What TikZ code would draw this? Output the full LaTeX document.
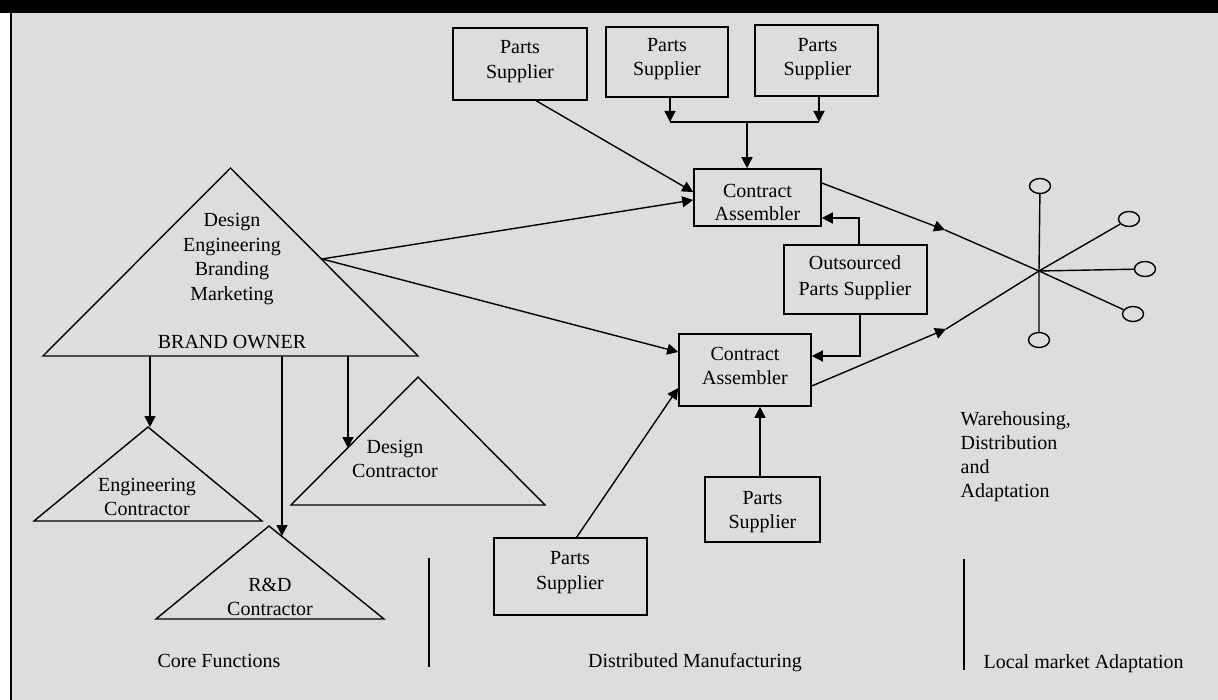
\documentclass[tikz,border=0pt]{standalone}
\usepackage{fontspec}
\setmainfont{Liberation Serif}
\usetikzlibrary{arrows.meta,shapes.geometric,calc}
\definecolor{bg}{RGB}{221,221,221}
\begin{document}
\begin{tikzpicture}[x=1pt,y=-1pt,line width=1.4pt,
  box/.style={draw,rectangle,inner sep=0pt,line width=1.6pt},
  txt/.style={anchor=base,inner sep=0pt,font=\fontsize{20}{24}\selectfont},
  ltxt/.style={txt,anchor=base west},
  arr/.style={-{Triangle[length=11pt,width=11pt]}},
  oval/.style={draw,ellipse,minimum width=21pt,minimum height=15pt,inner sep=0pt,line width=1.4pt}]
\useasboundingbox (0,0) rectangle (1218,700);
% background and frame
\fill[white] (0,0) rectangle (1218,700);
\fill[bg] (10,13) rectangle (1218,700);
\fill[black] (0,0) rectangle (1218,13);
\draw[line width=2pt] (11,13) -- (11,700);

% ---- boxes ----
\node[box,minimum width=134pt,minimum height=72pt] (ps1) at (520,64) {};
\node[box,minimum width=122pt,minimum height=70pt] (ps2) at (667,62) {};
\node[box,minimum width=123pt,minimum height=71pt] (ps3) at (816.5,60.5) {};
\node[box,minimum width=127pt,minimum height=57pt] (ca1) at (757.5,197.5) {};
\node[box,minimum width=143pt,minimum height=69pt] (ops) at (855.5,279.5) {};
\node[box,minimum width=132pt,minimum height=72pt] (ca2) at (745,370) {};
\node[box,minimum width=115pt,minimum height=65pt] (ps4) at (762.5,509.5) {};
\node[box,minimum width=153pt,minimum height=77pt] (ps5) at (570.5,576.5) {};

% box texts
\node[txt] (ps1a) at (520,54) {Parts};
\node[txt] (ps1b) at (520,79) {Supplier};
\node[txt] (ps2a) at (667,52) {Parts};
\node[txt] (ps2b) at (667,76) {Supplier};
\node[txt] (ps3a) at (817.5,51.5) {Parts};
\node[txt] (ps3b) at (817.5,75.5) {Supplier};
\node[txt] (ca1a) at (757.5,197.5) {Contract};
\node[txt] (ca1b) at (757.5,221) {Assembler};
\node[txt] (opsa) at (855,270) {Outsourced};
\node[txt] (opsb) at (855,295.5) {Parts Supplier};
\node[txt] (ca2a) at (745,361) {Contract};
\node[txt] (ca2b) at (745,384.5) {Assembler};
\node[txt] (ps4a) at (762.5,504.5) {Parts};
\node[txt] (ps4b) at (762.5,528.5) {Supplier};
\node[txt] (ps5a) at (570,564.5) {Parts};
\node[txt] (ps5b) at (570,589) {Supplier};

% ---- triangles ----
\coordinate (bo-top) at (230.5,168);
\coordinate (bo-r) at (418,356);
\coordinate (bo-l) at (43,356);
\draw (bo-top) -- (bo-r) -- (bo-l) -- cycle;
\node[txt] (bo1) at (232,227) {Design};
\node[txt] (bo2) at (232,252) {Engineering};
\node[txt] (bo3) at (232,276) {Branding};
\node[txt] (bo4) at (232,301) {Marketing};
\node[txt] (bo5) at (232,349) {BRAND OWNER};

\coordinate (ec-top) at (148,427);
\draw (ec-top) -- (262,521) -- (34,521) -- cycle;
\node[txt] (ec1) at (147,491) {Engineering};
\node[txt] (ec2) at (147,515) {Contractor};

\coordinate (rd-top) at (269,526);
\draw (rd-top) -- (384,619) -- (156,619) -- cycle;
\node[txt] (rd1) at (270,591) {R\&D};
\node[txt] (rd2) at (270,615) {Contractor};

\coordinate (dc-top) at (418,377);
\draw (dc-top) -- (545,505) -- (291,505) -- cycle;
\node[txt] (dc1) at (395,453) {Design};
\node[txt] (dc2) at (395,477) {Contractor};

% ---- brand owner arrows down ----
\coordinate (b1) at (150,356);
\coordinate (b2) at (282,356);
\coordinate (b3) at (348,356);
\coordinate (ec-in) at (150,427);
\coordinate (rd-in) at (282,536);
\coordinate (dc-in) at (348,448);
\draw[arr] (b1) -- (ec-in);
\draw[arr] (b2) -- (rd-in);
\draw[arr] (b3) -- (dc-in);

% ---- supplier connectors ----
\draw[arr] ($(ps1.south west)!0.62!(ps1.south east)$) -- ($(ca1.west)+(0,-5.5)$);
\coordinate (jl) at (670,122);
\coordinate (jr) at (819,122);
\coordinate (jm) at (747,122);
\coordinate (ps2o) at (670,97);
\coordinate (ps3o) at (819,96);
\draw[arr] (ps2o) -- (jl);
\draw[arr] (ps3o) -- (jr);
\draw (jl) -- (jr);
\draw[arr] (jm) -- (jm |- ca1.north);

\coordinate (bo-out) at (322,259);
\draw[arr] (bo-out) -- ($(ca1.west)+(0,2.5)$);
\draw[arr] (bo-out) -- ($(ca2.west)+(0,-18)$);

\draw[arr] ([xshift=3.5pt]ops.north) |- ($(ca1.east)+(0,20.5)$);
\draw[arr] ([xshift=4.5pt]ops.south) |- ($(ca2.east)+(0,-14)$);

\coordinate (p4t) at ([xshift=-2.5pt]ps4.north);
\draw[arr] (p4t) -- (p4t |- ca2.south);
\draw[arr] ($(ps5.north west)!0.54!(ps5.north east)$) -- ($(ca2.west)+(0,18)$);

% ---- distribution star ----
\coordinate (hub) at (1039,271);
\coordinate (p1) at (945,230);
\coordinate (p2) at (946,329);
\node[oval] (e1) at (1040,186) {};
\node[oval] (e2) at (1129,219) {};
\node[oval] (e3) at (1145,269) {};
\node[oval] (e4) at (1133,314) {};
\node[oval] (e5) at (1039,340) {};
\draw[arr] ($(ca1.east)+(0,-14.5)$) -- (p1);
\draw[arr] ($(ca2.east)+(0,16)$) -- (p2);
\draw (p1) -- (hub) -- (e4);
\draw (p2) -- (hub) -- (e2);
\draw (e1) -- (hub) -- (e5);
\draw (hub) -- (e3);

\node[ltxt] (w1) at (960,425) {Warehousing,};
\node[ltxt] (w2) at (960,449) {Distribution};
\node[ltxt] (w3) at (960,473) {and};
\node[ltxt] (w4) at (960,497) {Adaptation};

% ---- dividers and section labels ----
\coordinate (d1t) at (429,558);
\coordinate (d1b) at (429,667);
\coordinate (d2t) at (964,559);
\coordinate (d2b) at (964,670);
\draw (d1t) -- (d1b);
\draw (d2t) -- (d2b);
\node[txt] (s1) at (219,667) {Core Functions};
\node[txt] (s2) at (695,667) {Distributed Manufacturing};
\node[ltxt] (s3) at (983,668) {Local market Adaptation};
\end{tikzpicture}
\end{document}
